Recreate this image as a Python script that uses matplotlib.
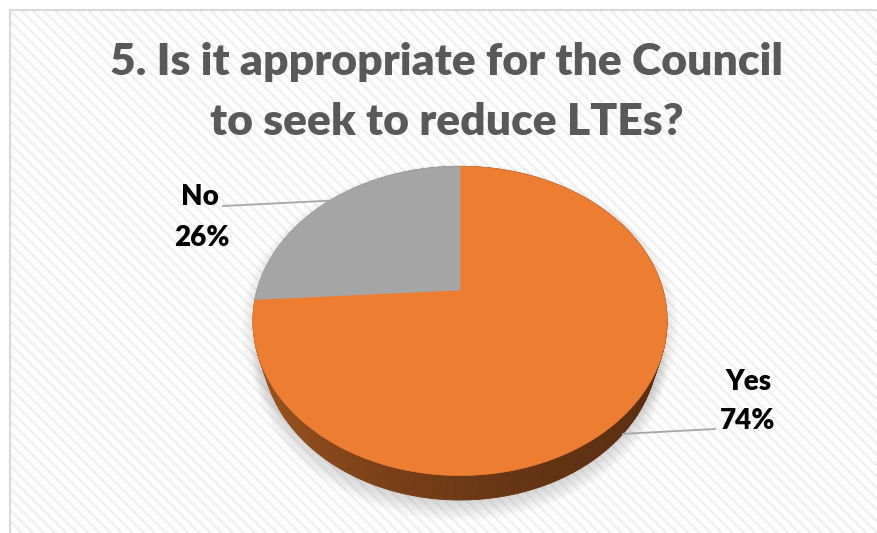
import numpy as np
import matplotlib
matplotlib.use("Agg")
import matplotlib.pyplot as plt
from matplotlib.patches import Polygon, Rectangle
from matplotlib.colors import to_rgb

title_lines = ["5. Is it appropriate for the Council", "to seek to reduce LTEs?"]
answers = ["Yes", "No"]
shares = [74, 26]
top_colors = ["#ED7D31", "#A5A5A5"]
side_dark = ["#5C2F12", "#555555"]
side_light = ["#A3581F", "#8C8C8C"]

# simple perspective camera looking down on the disc
ELEV = np.radians(47)
DIST = 3.41
FOCAL = 692
CX, CY = 460, 290
THICK = 0.21


def project(u, v, h=0.0):
    s, c = np.sin(ELEV), np.cos(ELEV)
    qy = h - DIST * s
    qz = v - DIST * c
    yc = qy * c - qz * s
    zc = -qy * s - qz * c
    return CX + FOCAL * np.asarray(u) / zc, CY - FOCAL * yc / zc


def rim(phi, h=0.0, r=1.0):
    # phi in degrees, clockwise from the far (top) point
    a = np.radians(phi)
    return project(r * np.sin(a), -r * np.cos(a), h)


def mix(c1, c2, t):
    a, b = np.array(to_rgb(c1)), np.array(to_rgb(c2))
    return tuple(a + (b - a) * t)


plt.rcParams["hatch.linewidth"] = 1.6

fig = plt.figure(figsize=(8.78, 5.33), dpi=100)
ax = fig.add_axes([0, 0, 1, 1])
ax.set_xlim(0, 878)
ax.set_ylim(533, 0)
ax.axis("off")
fig.patch.set_facecolor("white")

# chart area with the striped fill
ax.add_patch(Rectangle((10, 10), 900, 560, facecolor="#FDFDFD",
                       edgecolor="#EFEFEF", hatch="\\\\\\", linewidth=0, zorder=0))
ax.plot([10, 878], [10, 10], color="#D9D9D9", lw=1.5, zorder=1)
ax.plot([10, 10], [10, 533], color="#D9D9D9", lw=1.5, zorder=1)

# slice angles
total = float(sum(shares))
bounds = np.concatenate([[0], np.cumsum(shares) / total * 360.0])

# soft shadow under the disc
full = np.linspace(0, 360, 361)
for i in range(8):
    r = 1.0 + 0.008 * i
    xs, ys = rim(full, h=-THICK - 0.01 - 0.006 * i, r=r)
    ax.add_patch(Polygon(np.column_stack([xs, ys + 1.5]), closed=True,
                         facecolor="#7F7F7F", edgecolor="none", alpha=0.04, zorder=2))
    xs, ys = rim(full, h=-0.01, r=r)
    ax.add_patch(Polygon(np.column_stack([xs, ys + 1.5]), closed=True,
                         facecolor="#7F7F7F", edgecolor="none", alpha=0.025, zorder=2))

# side wall, drawn back to front
quads = []
for k in range(len(shares)):
    steps = np.linspace(bounds[k], bounds[k + 1], max(int(bounds[k + 1] - bounds[k]), 2) + 1)
    for p0, p1 in zip(steps[:-1], steps[1:]):
        x0, y0 = rim(p0)
        x1, y1 = rim(p1)
        x2, y2 = rim(p1, -THICK)
        x3, y3 = rim(p0, -THICK)
        pm = np.radians((p0 + p1) / 2)
        u, v = np.sin(pm), -np.cos(pm)
        t = ((1 - u) / 2) ** 2
        col = mix(side_dark[k], side_light[k], t)
        quads.append((v, [(x0, y0), (x1, y1), (x2, y2), (x3, y3)], col))
quads.sort(key=lambda q: q[0])
for _, pts, col in quads:
    ax.add_patch(Polygon(pts, closed=True, facecolor=col, edgecolor=col,
                         linewidth=0.6, zorder=3))

# top face
for k in range(len(shares)):
    steps = np.linspace(bounds[k], bounds[k + 1], 200)
    xs, ys = rim(steps)
    cx, cy = project(0.0, 0.0)
    pts = np.column_stack([np.concatenate([[cx], xs]), np.concatenate([[cy], ys])])
    ax.add_patch(Polygon(pts, closed=True, facecolor=top_colors[k],
                         edgecolor=top_colors[k], linewidth=0.5, zorder=4))

# data labels with leader lines
mid_yes = (bounds[0] + bounds[1]) / 2
mid_no = (bounds[1] + bounds[2]) / 2
yx, yy = rim(mid_yes, -THICK)
nx, ny = rim(mid_no)
ax.plot([yx, 715], [yy, 429], color="#A6A6A6", lw=1.3, zorder=5)
ax.plot([nx, 223], [ny, 206], color="#A6A6A6", lw=1.3, zorder=5)

lab_font = dict(family="Lato", fontweight="heavy", fontsize=20, color="#000000",
                ha="center", va="baseline", zorder=6)
ax.text(748, 390, answers[0], **lab_font)
ax.text(748, 429, f"{shares[0]}%", **lab_font)
ax.text(200, 205, answers[1], **lab_font)
ax.text(202, 246, f"{shares[1]}%", **lab_font)

# title
title_font = dict(family="Lato", fontweight="heavy", fontsize=32, color="#595959",
                  ha="center", va="baseline", zorder=6)
ax.text(447, 75, title_lines[0], **title_font)
ax.text(447, 135, title_lines[1], **title_font)

fig.savefig("out.png", dpi=100, facecolor="white")
